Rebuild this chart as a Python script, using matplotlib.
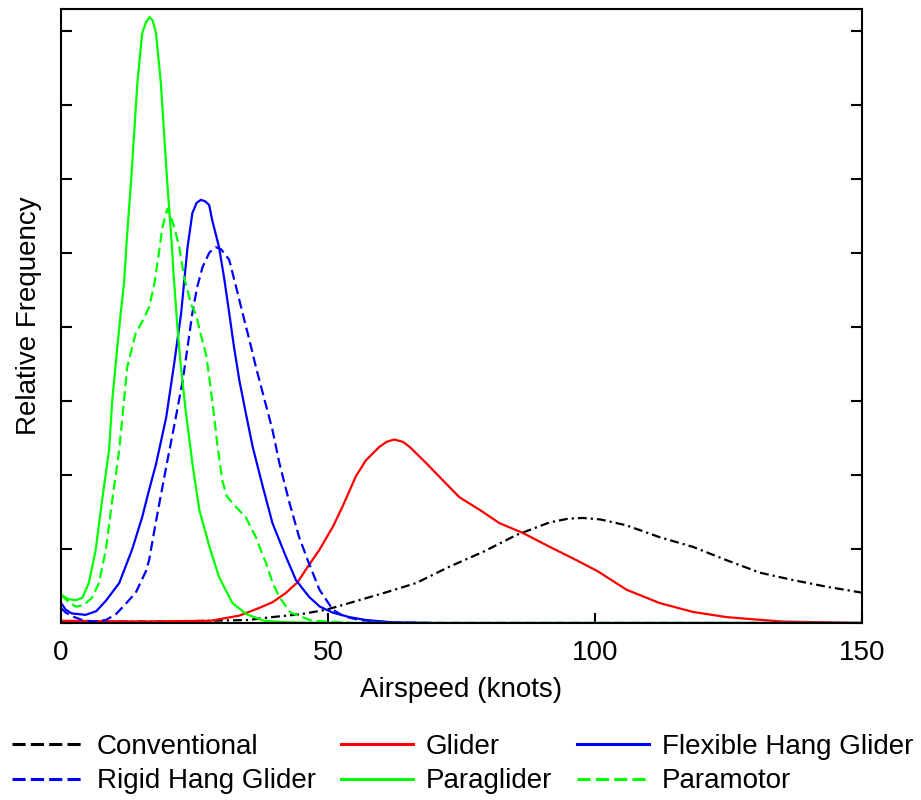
import matplotlib
matplotlib.use("Agg")
import matplotlib.pyplot as plt
from matplotlib.lines import Line2D

plt.rcParams['font.family'] = ['Liberation Sans', 'DejaVu Sans']

# airspeed (knots) and relative frequency (in y-tick units)
conv_x = [0, 20, 35, 39.6, 45, 49.7, 54, 60.2, 66.5, 72.7, 79, 85.3, 91.5, 95, 97.7,
          101, 105.9, 112.1, 118.3, 124.6, 130.9, 137.1, 143.4, 150]
conv_y = [0.02, 0.02, 0.04, 0.08, 0.12, 0.18, 0.27, 0.4, 0.54, 0.76, 0.96, 1.19, 1.36, 1.41, 1.42,
          1.4, 1.32, 1.16, 1.03, 0.85, 0.68, 0.58, 0.49, 0.41]

glider_x = [0, 15, 28, 33.4, 37, 39.6, 42, 44.3, 46.2, 48.4, 50.9, 52.7, 55.2, 57.1, 59.6, 61, 62.4, 64,
            65.3, 68.4, 71.5, 74.6, 78.4, 82.1, 86.4, 91.5, 96.5, 100.5, 105.9, 112.1, 118.3,
            124.6, 129.6, 135, 150]
glider_y = [0.03, 0.02, 0.03, 0.1, 0.2, 0.28, 0.4, 0.55, 0.76, 0.99, 1.3, 1.57, 1.98, 2.2, 2.38, 2.45, 2.48, 2.45,
            2.38, 2.16, 1.93, 1.7, 1.53, 1.35, 1.22, 1.03, 0.85, 0.7, 0.45, 0.27, 0.15,
            0.08, 0.05, 0.02, 0.0]

flex_x = [0, 0.9, 2, 4.6, 6.6, 8.4, 10.9, 13.3, 15.2, 16.5, 17.8, 19.7, 21.2, 22.5, 23.1, 23.7, 24.6,
          25.4, 26.2, 27, 27.75, 28.3, 29.6, 30.6, 31.5, 32.4, 33.4, 34.6, 35.9, 37.8, 39.6, 42.1,
          44, 46.5, 48.5, 50.9, 54, 57.1, 62, 70, 150]
flex_y = [0.27, 0.18, 0.13, 0.11, 0.16, 0.3, 0.54, 0.99, 1.43, 1.8, 2.15, 2.78, 3.51, 4.19, 4.64, 5.08, 5.54,
          5.68, 5.72, 5.7, 5.65, 5.45, 5.08, 4.64, 4.19, 3.73, 3.28, 2.84, 2.38, 1.84, 1.35, 0.9,
          0.58, 0.35, 0.22, 0.14, 0.08, 0.04, 0.01, 0.0, 0.0]

rigid_x = [0, 0.9, 2.5, 4, 6, 8.4, 10.3, 12, 14, 15.9, 16.5, 17.8, 19.7, 21.5, 22.8, 23.7, 24.6, 25.5,
           26.5, 27.8, 29, 30, 31.5, 32.8, 34, 35.3, 36.5, 38, 39.6, 40.9, 42.8, 44.6, 46.2, 48.4,
           50.9, 53, 55.9, 61, 70, 150]
rigid_y = [0.2, 0.14, 0.08, 0.04, 0.02, 0.04, 0.12, 0.25, 0.41, 0.7, 0.85, 1.38, 2.11, 2.78, 3.28, 3.73, 4.19, 4.54,
           4.81, 5.01, 5.08, 5.05, 4.91, 4.54, 4.19, 3.82, 3.46, 3.05, 2.61, 2.16, 1.62, 1.16, 0.85, 0.45,
           0.18, 0.09, 0.04, 0.01, 0.0, 0.0]

para_x = [0, 1.5, 2.8, 4, 5.2, 6.5, 7.7, 9, 9.6, 10.5, 11.2, 11.8, 12.4, 13.1, 13.7, 14.3, 15.2, 15.9,
          16.6, 17.2, 17.8, 18.7, 19.3, 19.9, 20.6, 21.2, 21.8, 22.4, 23.4, 24.6, 25.9, 27.8, 29.6,
          32.1, 34.7, 38, 42, 50, 150]
para_y = [0.38, 0.32, 0.31, 0.34, 0.54, 0.99, 1.66, 2.34, 3.01, 3.7, 4.2, 4.59, 5.27, 5.95, 6.62, 7.3, 7.97, 8.12,
          8.19, 8.14, 7.97, 7.3, 6.62, 5.95, 5.27, 4.59, 4.0, 3.5, 2.84, 2.16, 1.53, 1.03, 0.62,
          0.27, 0.12, 0.03, 0.01, 0.0, 0.0]

motor_x = [0, 1.5, 2.8, 4.2, 5.8, 7.1, 8.4, 9.6, 10.9, 11.8, 12.4, 14, 15.4, 16.5, 17.5, 18.4, 19, 19.9,
           20.5, 21.2, 22.1, 23.1, 24.4, 25.3, 26, 27.2, 27.8, 28.5, 29.3, 30.2, 31, 32.1, 33.4,
           34.6, 35.5, 36.5, 37.5, 38.4, 39.6, 40.9, 43, 47, 55, 150]
motor_y = [0.38, 0.28, 0.22, 0.24, 0.34, 0.54, 0.99, 1.66, 2.34, 3.01, 3.46, 3.92, 4.1, 4.27, 4.59, 5.04, 5.35, 5.6,
           5.5, 5.35, 5.1, 4.66, 4.3, 4.17, 3.95, 3.62, 3.3, 2.9, 2.4, 1.93, 1.72, 1.62, 1.52,
           1.43, 1.3, 1.16, 0.97, 0.81, 0.55, 0.35, 0.14, 0.03, 0.0, 0.0]

fig = plt.figure(figsize=(9.21, 8.0), dpi=100)
ax = fig.add_axes([61 / 921, 177 / 800, 801 / 921, 614 / 800])

lw = 1.6
ax.plot(conv_x, conv_y, color='black', lw=lw, dashes=(4, 1.8, 1, 1.8))
ax.plot(glider_x, glider_y, color='#ff0000', lw=lw)
ax.plot(flex_x, flex_y, color='#0000ff', lw=lw)
ax.plot(rigid_x, rigid_y, color='#0000ff', lw=lw, dashes=(4.5, 2.2))
ax.plot(para_x, para_y, color='#00ff00', lw=lw)
ax.plot(motor_x, motor_y, color='#00ff00', lw=lw, dashes=(4.5, 2.2))

ax.set_xlim(0, 150)
ax.set_ylim(0, 8.3)
ax.set_xticks([0, 50, 100, 150])
ax.set_yticks(range(9))
ax.set_yticklabels([])
ax.tick_params(axis='x', direction='in', length=7, width=1.5, labelsize=20, pad=12)
ax.tick_params(axis='y', direction='in', length=8, width=1.5, left=True, right=True)
for s in ax.spines.values():
    s.set_linewidth(1.5)

ax.set_xlabel('Airspeed (knots)', fontsize=20, labelpad=8)
ax.set_ylabel('Relative Frequency', fontsize=20, labelpad=10)

# legend is row-major in the picture, matplotlib fills columns first
llw = 2.2
handles = [
    Line2D([], [], color='black', lw=llw, dashes=(4.3, 1.7)),
    Line2D([], [], color='#0000ff', lw=llw, dashes=(4.3, 1.7)),
    Line2D([], [], color='#ff0000', lw=llw),
    Line2D([], [], color='#00ff00', lw=llw),
    Line2D([], [], color='#0000ff', lw=llw),
    Line2D([], [], color='#00ff00', lw=llw, dashes=(4.3, 1.7)),
]
labels = ['Conventional', 'Rigid Hang Glider', 'Glider', 'Paraglider',
          'Flexible Hang Glider', 'Paramotor']
fig.legend(handles, labels, ncol=3, loc='upper left', bbox_to_anchor=(12 / 921, 0.0825),
           frameon=False, fontsize=20, handlelength=2.6, handletextpad=0.45,
           columnspacing=0.9, labelspacing=0.3, borderpad=0.0, borderaxespad=0.0)

fig.savefig('out.png', dpi=100)
